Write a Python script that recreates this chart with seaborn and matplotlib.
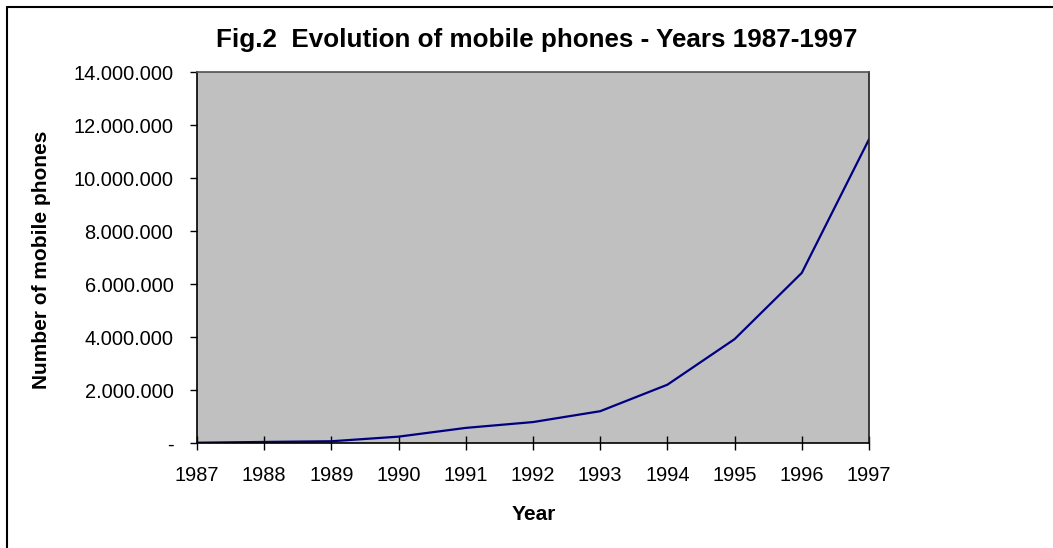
import matplotlib
matplotlib.use("Agg")
import matplotlib.pyplot as plt
from matplotlib.lines import Line2D
from matplotlib.ticker import FuncFormatter, MultipleLocator
import seaborn as sns
import pandas as pd

# Mobile phone subscribers per year
years = [1987, 1988, 1989, 1990, 1991, 1992, 1993, 1994, 1995, 1996, 1997]
phones = [10000, 40000, 66000, 240000, 570000, 790000, 1200000,
          2200000, 3920000, 6420000, 11460000]

title = "Fig.2  Evolution of mobile phones - Years 1987-1997"
x_label = "Year"
y_label = "Number of mobile phones"

sns.set_style("white")
plt.rcParams["font.family"] = ["Liberation Sans", "DejaVu Sans"]
plt.rcParams["text.color"] = "black"
plt.rcParams["xtick.color"] = "black"
plt.rcParams["ytick.color"] = "black"
plt.rcParams["axes.labelcolor"] = "black"

df = pd.DataFrame({"Year": years, "Phones": phones})

W, H = 1053, 548
fig = plt.figure(figsize=(W / 100, H / 100), dpi=100)
fig.patch.set_facecolor("white")

left, right, top, bottom = 197, 869, 72, 443
ax = fig.add_axes([left / W, 1 - bottom / H, (right - left) / W, (bottom - top) / H])
ax.set_facecolor("#C0C0C0")

sns.lineplot(data=df, x="Year", y="Phones", ax=ax, color="#000080", linewidth=1.6)

ax.set_xlim(years[0], years[-1])
ax.set_ylim(0, 14000000)
ax.set_xticks(years)
ax.yaxis.set_major_locator(MultipleLocator(2000000))


def dot_thousands(v, pos):
    if abs(v) < 0.5:
        return "-"
    return f"{int(round(v)):,}".replace(",", ".")


ax.yaxis.set_major_formatter(FuncFormatter(dot_thousands))
ax.tick_params(axis="x", direction="inout", length=9.6, width=1.0,
               colors="black", labelsize=14.4, pad=11.8, bottom=True)
ax.tick_params(axis="y", direction="out", length=5, width=1.0,
               colors="black", labelsize=14.4, pad=12.0, left=True)
ax.set_xlabel("")
ax.set_ylabel("")

for side, col in (("left", "black"), ("bottom", "black"),
                  ("top", "#505050"), ("right", "#202020")):
    ax.spines[side].set_visible(True)
    ax.spines[side].set_color(col)
    ax.spines[side].set_linewidth(1.2)

fig.text(537 / W, 1 - 46.5 / H, title, ha="center", va="baseline",
         fontsize=18.7, fontweight="bold", color="black")
fig.text(533.5 / W, 1 - 520 / H, x_label, ha="center", va="baseline",
         fontsize=15, fontweight="bold", color="black")
fig.text(42 / W, 1 - 259.5 / H, y_label, ha="center", va="center",
         rotation=90, fontsize=15, fontweight="bold", color="black")

# Chart frame along the left and top edges
fig.add_artist(Line2D([7 / W, 7 / W], [0, 1 - 6.5 / H], color="black",
                      linewidth=1.5, transform=fig.transFigure))
fig.add_artist(Line2D([7 / W, 1], [1 - 6.5 / H, 1 - 6.5 / H], color="black",
                      linewidth=1.5, transform=fig.transFigure))

fig.savefig("out.png", dpi=100)
